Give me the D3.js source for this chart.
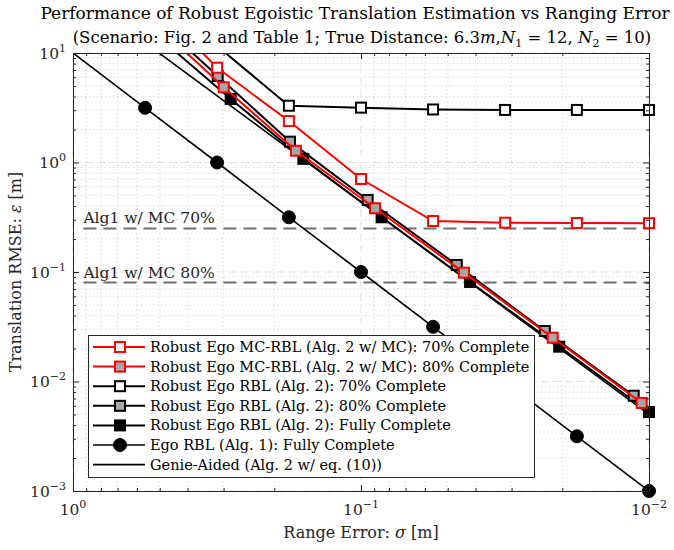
<!DOCTYPE html>
<html lang="en">
	<head>
		<meta charset="utf-8">
		<title>Robust Ego RMSE vs Ranging Error</title>
		<script src="https://cdn.jsdelivr.net/npm/d3@7"></script>
		<style type="text/css">
			body { margin: 0; background: #fff; }
			svg { font-family: "DejaVu Serif", "Liberation Serif", serif; }
			.axis path, .axis line { stroke: #262626; }
		</style>
	</head>
	<body>
		<script type="text/javascript">
			//Canvas and plot box
			var w = 674, h = 550;
			var plotLeft = 73, plotRight = 649, plotTop = 53, plotBottom = 491;

			//Data (sigma in m, RMSE in m)
			var sigmaMC70 = [0.562, 0.316, 0.178, 0.1, 0.0562, 0.0316, 0.0178, 0.01];
			var rmseMC70 = [34.5, 7.34, 2.39, 0.707, 0.292, 0.282, 0.280, 0.279];

			var sigmaMC80 = [0.54, 0.2997, 0.1682, 0.0894, 0.0439, 0.0216, 0.0106];
			var rmseMC80 = [20.5, 4.86, 1.28, 0.382, 0.0986, 0.0251, 0.00637];

			var sigmaRBL70 = [0.316, 0.178, 0.1, 0.0562, 0.0316, 0.0178, 0.01];
			var rmseRBL70 = [11.6, 3.30, 3.17, 3.05, 3.02, 3.02, 3.02];

			var sigmaRBL80 = [0.562, 0.3145, 0.1764, 0.0948, 0.0465, 0.023, 0.0113];
			var rmseRBL80 = [24.8, 6.17, 1.55, 0.455, 0.116, 0.0289, 0.00742];

			var sigmaRBLFull = [0.511, 0.2834, 0.1586, 0.0848, 0.0418, 0.0205, 0.01];
			var rmseRBLFull = [14.4, 3.80, 1.08, 0.316, 0.0811, 0.0208, 0.00526];

			var sigmaEgo = [1.33, 0.562, 0.316, 0.178, 0.1, 0.0562, 0.0316, 0.0178, 0.01];
			var rmseEgo = [17.7, 3.16, 1.0, 0.316, 0.1, 0.0316, 0.01, 0.00316, 0.001];

			var sigmaGenie = [1, 0.01];
			var rmseGenie = [38, 0.0050];

			//Alg1 w/ MC reference levels
			var refValues = [0.25, 0.08];
			var refLabels = ["Alg1 w/ MC 70%", "Alg1 w/ MC 80%"];

			var xTicks = [1, 0.1, 0.01];
			var yTicks = [1e-3, 1e-2, 1e-1, 1, 10];

			var legendLabels = [
				"Robust Ego MC-RBL (Alg. 2 w/ MC): 70% Complete",
				"Robust Ego MC-RBL (Alg. 2 w/ MC): 80% Complete",
				"Robust Ego RBL (Alg. 2): 70% Complete",
				"Robust Ego RBL (Alg. 2): 80% Complete",
				"Robust Ego RBL (Alg. 2): Fully Complete",
				"Ego RBL (Alg. 1): Fully Complete",
				"Genie-Aided (Alg. 2 w/ eq. (10))"
			];

			//Series styles, same order as the legend
			var series = [
				{ x: sigmaMC70, y: rmseMC70, color: "#ff0000", shape: "square", fill: "#ffffff", lw: 2 },
				{ x: sigmaMC80, y: rmseMC80, color: "#ff0000", shape: "square", fill: "#a6a6a6", lw: 2 },
				{ x: sigmaRBL70, y: rmseRBL70, color: "#000000", shape: "square", fill: "#ffffff", lw: 2 },
				{ x: sigmaRBL80, y: rmseRBL80, color: "#000000", shape: "square", fill: "#a6a6a6", lw: 2 },
				{ x: sigmaRBLFull, y: rmseRBLFull, color: "#000000", shape: "square", fill: "#000000", lw: 2 },
				{ x: sigmaEgo, y: rmseEgo, color: "#000000", shape: "circle", fill: "#000000", lw: 1.6 },
				{ x: sigmaGenie, y: rmseGenie, color: "#000000", shape: "none", fill: "none", lw: 1.6 }
			];
			//draw black ones first so the red lines sit on top
			var drawOrder = [6, 5, 4, 3, 2, 1, 0];

			//Scales (x axis runs from 1 down to 0.01)
			var xScale = d3.scaleLog().domain([1, 0.01]).range([plotLeft, plotRight]);
			var yScale = d3.scaleLog().domain([1e-3, 10]).range([plotBottom, plotTop]);

			var svg = d3.select("body").append("svg")
				.attr("width", w)
				.attr("height", h);

			svg.append("rect").attr("width", w).attr("height", h).attr("fill", "#fff");

			svg.append("defs").append("clipPath").attr("id", "plotclip")
				.append("rect")
				.attr("x", plotLeft).attr("y", plotTop)
				.attr("width", plotRight - plotLeft).attr("height", plotBottom - plotTop);

			//Grid: dotted minor, dashed major
			var grid = svg.append("g");
			var xMinor = xScale.ticks().filter(function(d) { return xTicks.indexOf(d) < 0; });
			var yMinor = yScale.ticks().filter(function(d) { return yTicks.indexOf(d) < 0; });

			grid.selectAll(".xminor").data(xMinor).enter().append("line")
				.attr("x1", function(d) { return xScale(d); })
				.attr("x2", function(d) { return xScale(d); })
				.attr("y1", plotTop).attr("y2", plotBottom)
				.attr("stroke", "#cfcfcf").attr("stroke-width", 1).attr("stroke-dasharray", "1,3");
			grid.selectAll(".yminor").data(yMinor).enter().append("line")
				.attr("y1", function(d) { return yScale(d); })
				.attr("y2", function(d) { return yScale(d); })
				.attr("x1", plotLeft).attr("x2", plotRight)
				.attr("stroke", "#cfcfcf").attr("stroke-width", 1).attr("stroke-dasharray", "1,3");
			grid.selectAll(".xmajor").data(xTicks).enter().append("line")
				.attr("x1", function(d) { return xScale(d); })
				.attr("x2", function(d) { return xScale(d); })
				.attr("y1", plotTop).attr("y2", plotBottom)
				.attr("stroke", "#e0e0e0").attr("stroke-width", 1).attr("stroke-dasharray", "8,4");
			grid.selectAll(".ymajor").data(yTicks).enter().append("line")
				.attr("y1", function(d) { return yScale(d); })
				.attr("y2", function(d) { return yScale(d); })
				.attr("x1", plotLeft).attr("x2", plotRight)
				.attr("stroke", "#e0e0e0").attr("stroke-width", 1).attr("stroke-dasharray", "8,4");

			//Reference dashed lines with their labels
			var refs = svg.append("g");
			refs.selectAll("line").data(refValues).enter().append("line")
				.attr("x1", xScale(0.92)).attr("x2", xScale(0.01))
				.attr("y1", function(d) { return yScale(d); })
				.attr("y2", function(d) { return yScale(d); })
				.attr("stroke", "#6e6e6e").attr("stroke-width", 2)
				.attr("stroke-dasharray", "13,7");
			refs.selectAll("text").data(refValues).enter().append("text")
				.attr("x", xScale(0.92))
				.attr("y", function(d) { return yScale(d) - 5; })
				.attr("font-size", 15.5)
				.attr("fill", "#262626")
				.text(function(d, i) { return refLabels[i]; });

			//Series lines and markers
			var line = d3.line()
				.x(function(d) { return xScale(d[0]); })
				.y(function(d) { return yScale(d[1]); });

			function drawMarker(g, shape, cx, cy, color, fill) {
				if (shape === "square") {
					g.append("rect")
						.attr("x", cx - 5).attr("y", cy - 5)
						.attr("width", 10).attr("height", 10)
						.attr("fill", fill).attr("stroke", color).attr("stroke-width", 2);
				} else if (shape === "circle") {
					g.append("circle")
						.attr("cx", cx).attr("cy", cy).attr("r", 6.5)
						.attr("fill", fill).attr("stroke", color);
				}
			}

			var plot = svg.append("g");
			drawOrder.forEach(function(k) {
				var s = series[k];
				var pts = s.x.map(function(v, i) { return [v, s.y[i]]; });
				plot.append("path")
					.attr("clip-path", "url(#plotclip)")
					.attr("d", line(pts))
					.attr("fill", "none")
					.attr("stroke", s.color)
					.attr("stroke-width", s.lw);
				var mg = plot.append("g");
				pts.forEach(function(p) {
					if (p[0] <= 1 && p[0] >= 0.01 && p[1] >= 1e-3 && p[1] <= 10) {
						drawMarker(mg, s.shape, xScale(p[0]), yScale(p[1]), s.color, s.fill);
					}
				});
			});

			//Axes with inside ticks on all four sides
			var xMajorAxis = d3.axisBottom(xScale).tickValues(xTicks).tickSize(-6).tickFormat("");
			var xMinorAxis = d3.axisBottom(xScale).tickValues(xMinor).tickSize(-3).tickFormat("");
			var yMajorAxis = d3.axisLeft(yScale).tickValues(yTicks).tickSize(-6).tickFormat("");
			var yMinorAxis = d3.axisLeft(yScale).tickValues(yMinor).tickSize(-3).tickFormat("");

			svg.append("g").attr("class", "axis").attr("transform", "translate(0," + plotBottom + ")").call(xMajorAxis);
			svg.append("g").attr("class", "axis").attr("transform", "translate(0," + plotBottom + ")").call(xMinorAxis);
			svg.append("g").attr("class", "axis").attr("transform", "translate(" + plotLeft + ",0)").call(yMajorAxis);
			svg.append("g").attr("class", "axis").attr("transform", "translate(" + plotLeft + ",0)").call(yMinorAxis);
			svg.append("g").attr("class", "axis").attr("transform", "translate(0," + plotTop + ")")
				.call(d3.axisTop(xScale).tickValues(xTicks).tickSize(-6).tickFormat(""));
			svg.append("g").attr("class", "axis").attr("transform", "translate(0," + plotTop + ")")
				.call(d3.axisTop(xScale).tickValues(xMinor).tickSize(-3).tickFormat(""));
			svg.append("g").attr("class", "axis").attr("transform", "translate(" + plotRight + ",0)")
				.call(d3.axisRight(yScale).tickValues(yTicks).tickSize(-6).tickFormat(""));
			svg.append("g").attr("class", "axis").attr("transform", "translate(" + plotRight + ",0)")
				.call(d3.axisRight(yScale).tickValues(yMinor).tickSize(-3).tickFormat(""));
			svg.selectAll(".axis .domain").attr("stroke-width", 1);

			//Power-of-ten tick labels
			function powLabel(sel, d) {
				var e = Math.round(Math.log10(d));
				sel.append("tspan").text("10");
				sel.append("tspan").attr("dy", -7).attr("font-size", 11)
					.text(e < 0 ? "\u2212" + (-e) : String(e));
			}
			yTicks.forEach(function(d) {
				var t = svg.append("text")
					.attr("x", 66).attr("y", yScale(d) + 5.5)
					.attr("text-anchor", "end")
					.attr("font-size", 15.5).attr("fill", "#262626");
				powLabel(t, d);
			});
			xTicks.forEach(function(d) {
				var t = svg.append("text")
					.attr("x", xScale(d)).attr("y", 515)
					.attr("text-anchor", "middle")
					.attr("font-size", 15.5).attr("fill", "#262626");
				powLabel(t, d);
			});

			//Axis titles
			var xl = svg.append("text").attr("x", (plotLeft + plotRight) / 2).attr("y", 538)
				.attr("text-anchor", "middle").attr("font-size", 16).attr("fill", "#262626");
			xl.append("tspan").text("Range Error: ");
			xl.append("tspan").attr("font-style", "italic").text("\u03c3");
			xl.append("tspan").text(" [m]");

			var yl = svg.append("text")
				.attr("transform", "translate(21," + ((plotTop + plotBottom) / 2) + ") rotate(-90)")
				.attr("text-anchor", "middle").attr("font-size", 16).attr("fill", "#262626");
			yl.append("tspan").text("Translation RMSE: ");
			yl.append("tspan").attr("font-style", "italic").text("\u03b5");
			yl.append("tspan").text(" [m]");

			//Title (two lines)
			svg.append("text").attr("x", 355).attr("y", 19)
				.attr("text-anchor", "middle").attr("font-size", 17).attr("fill", "#000")
				.text("Performance of Robust Egoistic Translation Estimation vs Ranging Error");
			var t2 = svg.append("text").attr("x", 362).attr("y", 43)
				.attr("text-anchor", "middle").attr("font-size", 16.5).attr("fill", "#000");
			t2.append("tspan").text("(Scenario: Fig. 2 and Table 1; True Distance: 6.3");
			t2.append("tspan").attr("font-style", "italic").text("m");
			t2.append("tspan").text(",");
			t2.append("tspan").attr("font-style", "italic").text("N");
			t2.append("tspan").attr("font-size", 11).attr("dy", 4).text("1");
			t2.append("tspan").attr("dy", -4).text(" = 12, ");
			t2.append("tspan").attr("font-style", "italic").text("N");
			t2.append("tspan").attr("font-size", 11).attr("dy", 4).text("2");
			t2.append("tspan").attr("dy", -4).text(" = 10)");

			//Legend
			var lg = svg.append("g");
			lg.append("rect")
				.attr("x", 88.5).attr("y", 335.5).attr("width", 446).attr("height", 142)
				.attr("fill", "#fff").attr("stroke", "#262626").attr("stroke-width", 1);
			series.forEach(function(s, i) {
				var ry = 347 + i * 19.6;
				var row = lg.append("g");
				row.append("line")
					.attr("x1", 93).attr("x2", 145).attr("y1", ry).attr("y2", ry)
					.attr("stroke", s.color).attr("stroke-width", s.lw);
				drawMarker(row, s.shape, 120, ry, s.color, s.fill);
				row.append("text")
					.attr("x", 150).attr("y", ry + 5)
					.attr("font-size", 14.5).attr("fill", "#000")
					.text(legendLabels[i]);
			});
		</script>
	</body>
</html>
